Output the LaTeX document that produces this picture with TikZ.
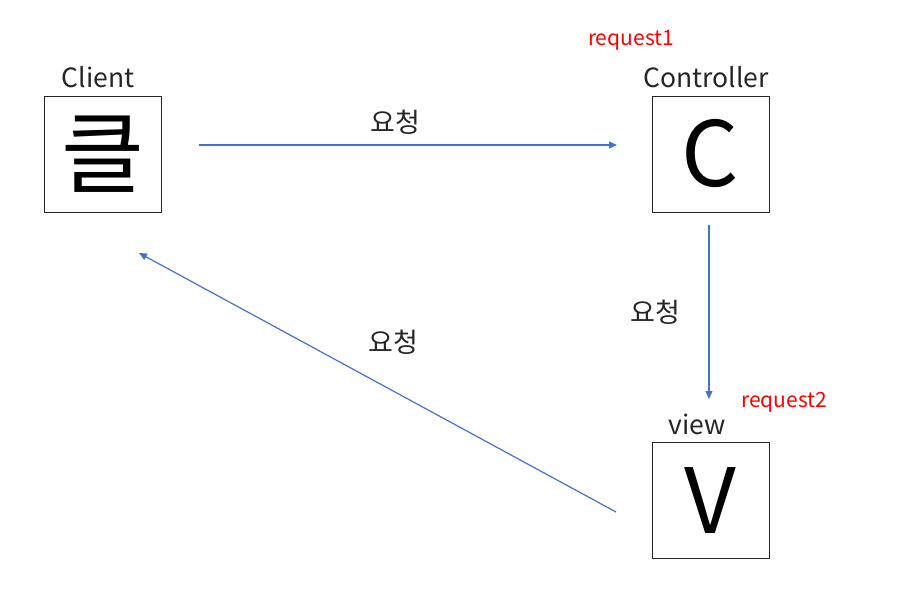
\documentclass[tikz,border=0pt]{standalone}
\usepackage{fontspec}
\setmainfont{Noto Sans CJK KR}
\usetikzlibrary{arrows.meta}
\definecolor{arrowblue}{HTML}{4472C4}
\definecolor{redtext}{HTML}{FF0000}
\tikzset{
  box/.style={draw=black!85, line width=1pt, minimum width=117pt, minimum height=116pt, inner sep=0pt, font=\fontsize{90}{90}\selectfont},
  title/.style={font=\fontsize{26.5}{26.5}\selectfont, text=black!85, inner sep=0pt},
  req/.style={font=\fontsize{21}{21}\selectfont, text=redtext, inner sep=0pt},
  lbl/.style={font=\fontsize{27}{27}\selectfont, text=black!85, inner sep=0pt},
  flow/.style={draw=arrowblue, line width=1.2pt, -{Triangle[length=8pt,width=7pt]}}
}
\begin{document}
\begin{tikzpicture}[x=1pt,y=-1pt]
\useasboundingbox (0,0) rectangle (916,602);
\node[box] (client) at (103,154) {클};
\node[box] (ctrl) at (710.5,154) {C};
\node[box] (view) at (710.5,500.5) {V};
\node[title] (clientt) at (98,77) {Client};
\node[title] (ctrlt) at (706,77) {Controller};
\node[title] (viewt) at (697,424) {view};
\node[req] (r1) at (631,40) {request1};
\node[req] (r2) at (784,402) {request2};
\coordinate (a1s) at (199,145);
\coordinate (a1e) at (617,145);
\coordinate (a2s) at (709,225);
\coordinate (a2e) at (709,399);
\coordinate (a3s) at (616,512);
\coordinate (a3e) at (139,253);
\draw[flow] (a1s) -- (a1e);
\draw[flow] (a2s) -- (a2e);
\draw[flow] (a3s) -- (a3e);
\node[lbl] (l1) at (395,122) {요청};
\node[lbl] (l2) at (655,312) {요청};
\node[lbl] (l3) at (393,342) {요청};
\end{tikzpicture}
\end{document}
